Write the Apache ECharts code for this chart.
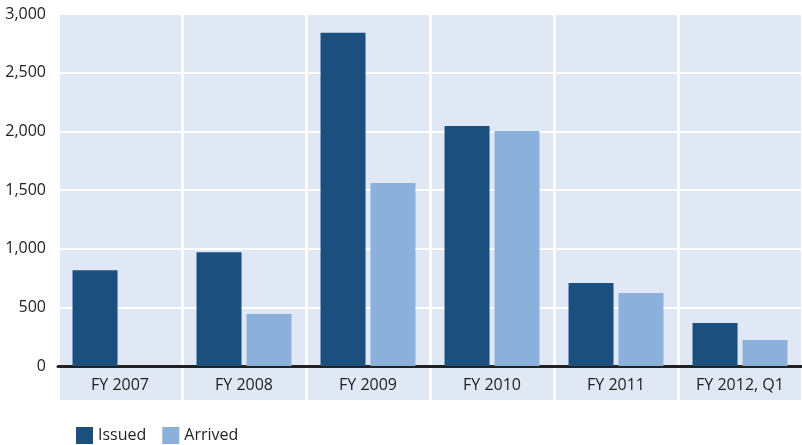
<!DOCTYPE html>
<html lang="en">
<head>
    <meta charset="UTF-8">
    <title>Issued vs Arrived</title>
    <script src="https://cdn.jsdelivr.net/npm/echarts/dist/echarts.min.js"></script>
    <style>
        html, body { margin: 0; padding: 0; background: #fff; }
        #chart { width: 802px; height: 445px; }
    </style>
</head>
<body>
    <div id="chart"></div>
    <script>
        const years = ['FY 2007', 'FY 2008', 'FY 2009', 'FY 2010', 'FY 2011', 'FY 2012, Q1'];
        const issued = [815, 970, 2840, 2045, 708, 367];
        const arrived = [null, 443, 1560, 2003, 622, 222];

        const bg = '#e1e8f5';
        const font = '"Open Sans", "Noto Sans", sans-serif';

        const chart = echarts.init(document.getElementById('chart'));
        chart.setOption({
            animation: false,
            textStyle: { fontFamily: font },
            legend: {
                left: 71, top: 422,
                itemWidth: 17, itemHeight: 17, itemGap: 16,
                icon: 'rect',
                textStyle: { fontSize: 16, color: '#222', fontFamily: font },
                data: ['Issued', 'Arrived']
            },
            grid: [
                { left: 58, width: 748, top: 14, height: 352, show: true, backgroundColor: bg, borderWidth: 0 },
                { left: 58, width: 748, top: 366, height: 34, show: true, backgroundColor: bg, borderWidth: 0 }
            ],
            xAxis: [
                {
                    type: 'category', data: years, gridIndex: 0,
                    axisLine: { lineStyle: { color: '#222', width: 3 } },
                    axisTick: { show: false },
                    axisLabel: { color: '#222', fontSize: 16, margin: 11 },
                    splitLine: { show: true, lineStyle: { color: '#fff', width: 3 } }
                },
                {
                    type: 'category', data: years, gridIndex: 1,
                    axisLine: { show: false }, axisTick: { show: false },
                    axisLabel: { show: false },
                    splitLine: { show: true, lineStyle: { color: '#fff', width: 3 } }
                }
            ],
            yAxis: [
                {
                    type: 'value', min: 0, max: 3000, interval: 500, gridIndex: 0,
                    axisLine: { show: false }, axisTick: { show: false },
                    axisLabel: {
                        color: '#222', fontSize: 16, margin: 12,
                        formatter: v => v.toLocaleString('en-US')
                    },
                    splitLine: { lineStyle: { color: '#fff', width: 2 } }
                },
                { type: 'value', gridIndex: 1, show: false, splitLine: { show: false } }
            ],
            series: [
                {
                    name: 'Issued', type: 'bar', data: issued,
                    barWidth: 45, barGap: '11%',
                    itemStyle: { color: '#1b4f7e' }
                },
                {
                    name: 'Arrived', type: 'bar', data: arrived,
                    barWidth: 45,
                    itemStyle: { color: '#8cb0dc' }
                }
            ]
        });
    </script>
</body>
</html>
